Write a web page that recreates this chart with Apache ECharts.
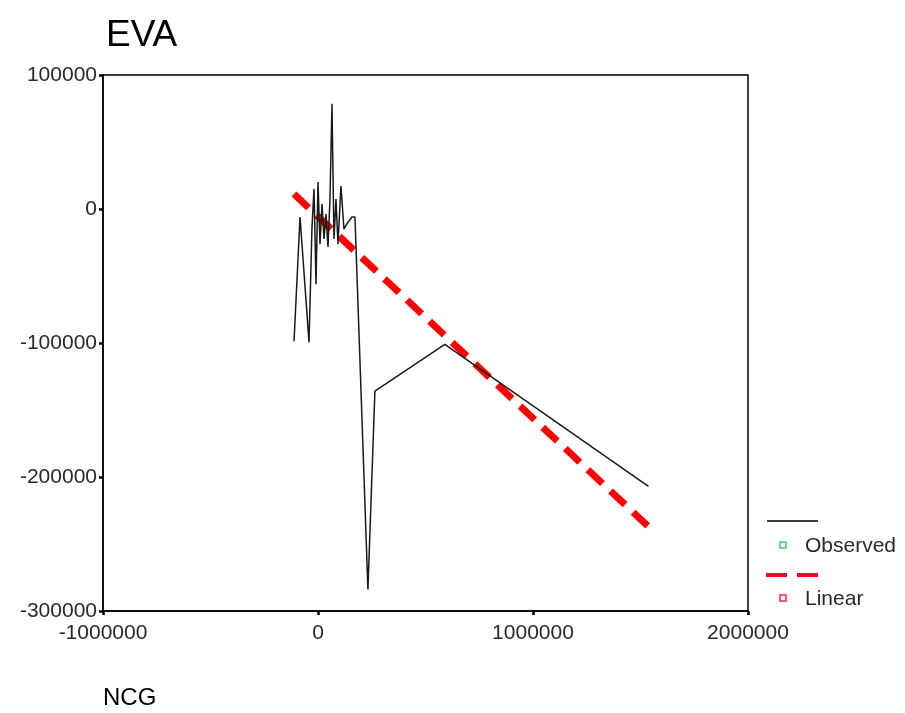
<!DOCTYPE html>
<html>
<head>
<meta charset="utf-8">
<script src="https://cdn.jsdelivr.net/npm/echarts@6/dist/echarts.min.js"></script>
<style>
html,body{margin:0;padding:0;background:#fff;}
#c{width:905px;height:713px;}
</style>
</head>
<body>
<div id="c"></div>
<script>
const chartTitle = 'EVA';
const xAxisTitle = 'NCG';
const legendNames = ['Observed', 'Linear'];
const xTicks = [-1000000, 0, 1000000, 2000000];
const yTicks = [-300000, -200000, -100000, 0, 100000];

const observedX = [-111500, -83600, -41800, -27900, -18600, -9300, 0, 9300, 18600, 27900, 37200, 46400, 55700, 65000, 74300, 83600, 92900, 106800, 120800, 134700, 157900, 171900, 232200, 264700, 589900, 1537000];
const observedY = [-98700, -6000, -99500, -13500, 15000, -56100, 20200, -26200, 3700, -22400, -3700, -28400, 7500, 78500, -22400, 7500, -26200, 17200, -15000, -11000, -6000, -6000, -284000, -136000, -101000, -207000];

const linearX = [-111500, 1537000];
const linearY = [11200, -237000];

const FONT = 'Liberation Sans, Arial, sans-serif';

const chart = echarts.init(document.getElementById('c'), null, {renderer: 'canvas'});
const zip = (xs, ys) => xs.map((x, i) => [x, ys[i]]);
const plain = v => String(v);

chart.setOption({
  backgroundColor: '#ffffff',
  animation: false,
  title: {
    text: chartTitle,
    left: 101,
    top: 12,
    textStyle: {fontFamily: FONT, fontSize: 37, fontWeight: 'normal', color: '#000'}
  },
  grid: {
    left: 103, right: 157, top: 75, bottom: 102,
    show: true, borderColor: '#000', borderWidth: 1.5, backgroundColor: '#fff'
  },
  xAxis: {
    type: 'value',
    min: xTicks[0], max: xTicks[xTicks.length - 1], interval: 1000000,
    axisLine: {show: true, onZero: false, lineStyle: {color: '#000', width: 1.5}},
    axisTick: {show: true, inside: false, length: 4, lineStyle: {color: '#000', width: 2.5}},
    splitLine: {show: false},
    axisLabel: {fontFamily: FONT, fontSize: 21, color: '#2a2a2a', margin: 12, formatter: plain}
  },
  yAxis: {
    type: 'value',
    min: yTicks[0], max: yTicks[yTicks.length - 1], interval: 100000,
    axisLine: {show: true, onZero: false, lineStyle: {color: '#000', width: 1.5}},
    axisTick: {show: true, inside: false, length: 4, lineStyle: {color: '#000', width: 2.5}},
    splitLine: {show: false},
    axisLabel: {fontFamily: FONT, fontSize: 21, color: '#2a2a2a', margin: 6, formatter: plain}
  },
  series: [
    {
      name: legendNames[0],
      type: 'line',
      data: zip(observedX, observedY),
      showSymbol: false,
      lineStyle: {color: '#1a1a1a', width: 1.5},
      z: 3
    },
    {
      name: legendNames[1],
      type: 'line',
      data: zip(linearX, linearY),
      showSymbol: false,
      lineStyle: {color: '#ff0000', width: 7, type: [20, 11]},
      z: 2
    }
  ],
  graphic: [
    {type: 'text', left: 103, top: 686,
      style: {text: xAxisTitle, font: '24px ' + FONT, fill: '#000'}},
    {type: 'line', shape: {x1: 767, y1: 521, x2: 818, y2: 521},
      style: {stroke: '#000', lineWidth: 1.5}},
    {type: 'rect', shape: {x: 780, y: 542, width: 6, height: 6},
      style: {stroke: '#33dd55', fill: '#fff', lineWidth: 1.5}},
    {type: 'text', x: 805, y: 546,
      style: {text: legendNames[0], font: '21px ' + FONT, fill: '#2a2a2a', textVerticalAlign: 'middle'}},
    {type: 'line', shape: {x1: 766, y1: 575, x2: 818, y2: 575},
      style: {stroke: '#ff0022', lineWidth: 4, lineDash: [21, 10]}},
    {type: 'rect', shape: {x: 780, y: 595, width: 6, height: 6},
      style: {stroke: '#ff2255', fill: '#fff', lineWidth: 1.5}},
    {type: 'text', x: 805, y: 599,
      style: {text: legendNames[1], font: '21px ' + FONT, fill: '#2a2a2a', textVerticalAlign: 'middle'}}
  ]
});
</script>
</body>
</html>
